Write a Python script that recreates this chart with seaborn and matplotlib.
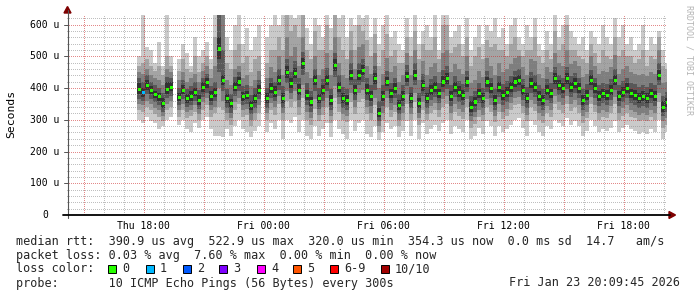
import numpy as np
import pandas as pd
import matplotlib
matplotlib.use("Agg")
import matplotlib.pyplot as plt
import matplotlib.transforms as mtransforms
from matplotlib.patches import Rectangle, Polygon
from matplotlib.lines import Line2D
import seaborn as sns

nan = np.nan

# ---------------- data (microseconds), one sample per 12 minutes from Thu 17:40 ----------------
median = [
    395, 385, 408, 393, 380, 372, 350, 395, 403, nan,
    370, 393, 366, 372, 387, 361, 401, 416, 372, 385,
    523, 424, 366, 350, 403, 419, 372, 377, 345, 366,
    393, nan, 366, 398, 387, 424, 366, 450, 414, 445,
    393, 477, 377, 356, 424, 366, 393, 424, 361, 472,
    403, 366, 361, 440, 393, 440, 456, 393, 372, 429,
    320, 372, 419, 382, 398, 345, 372, 435, 366, 440,
    350, 408, 366, 393, 403, 382, 419, 429, 372, 403,
    387, 377, 419, 340, 356, 382, 366, 419, 398, 361,
    403, 377, 387, 403, 419, 424, 393, 366, 414, 403,
    372, 361, 393, 382, 429, 408, 398, 429, 403, 414,
    398, 361, 377, 424, 398, 372, 382, 377, 393, 424,
    372, 387, 398, 382, 377, 366, 372, 366, 382, 372,
    440, 340, 354]

ping1 = [
    300, 290, 310, 295, 290, 270, 280, 300, 310, nan,
    285, 300, 270, 260, 290, 275, 300, 310, 270, 250,
    250, 245, 270, 250, 280, 300, 270, 260, 245, 265,
    280, nan, 260, 290, 270, 300, 240, 300, 290, 310,
    260, 300, 250, 240, 280, 250, 270, 290, 245, 300,
    270, 255, 240, 300, 265, 290, 300, 255, 245, 280,
    235, 260, 290, 270, 280, 245, 265, 295, 250, 300,
    240, 290, 255, 270, 285, 265, 290, 300, 255, 280,
    270, 260, 300, 240, 250, 275, 255, 295, 280, 250,
    280, 260, 270, 285, 300, 305, 275, 250, 295, 285,
    260, 250, 280, 270, 300, 290, 280, 305, 285, 295,
    280, 250, 265, 300, 280, 262, 270, 265, 275, 295,
    262, 275, 285, 270, 265, 255, 262, 255, 270, 262,
    300, 240, 260]

ping2 = [
    330, 325, 340, 330, 318, 310, 295, 330, 340, nan,
    310, 330, 305, 312, 325, 300, 330, 345, 310, 320,
    340, 330, 300, 285, 330, 350, 310, 315, 280, 300,
    320, nan, 300, 330, 315, 350, 300, 360, 340, 360,
    315, 370, 300, 285, 335, 295, 315, 340, 290, 370,
    325, 298, 292, 355, 318, 355, 365, 318, 300, 345,
    262, 300, 340, 310, 325, 280, 300, 350, 298, 355,
    282, 330, 298, 320, 330, 310, 340, 350, 300, 325,
    312, 302, 340, 275, 288, 310, 295, 340, 325, 292,
    325, 302, 312, 330, 345, 350, 320, 295, 340, 328,
    300, 290, 320, 310, 350, 330, 322, 350, 328, 340,
    322, 290, 305, 350, 325, 300, 310, 305, 320, 350,
    300, 312, 322, 310, 305, 295, 300, 295, 310, 300,
    355, 275, 285]

ping3 = [
    350, 345, 360, 350, 338, 330, 312, 350, 360, nan,
    330, 350, 325, 330, 345, 318, 355, 368, 330, 340,
    400, 360, 320, 305, 355, 370, 330, 335, 300, 320,
    345, nan, 320, 352, 340, 375, 320, 390, 365, 390,
    340, 410, 325, 305, 365, 315, 340, 370, 312, 405,
    350, 318, 312, 385, 340, 385, 395, 340, 322, 370,
    280, 322, 368, 332, 348, 300, 322, 380, 318, 385,
    305, 355, 318, 342, 352, 332, 365, 375, 322, 350,
    335, 325, 365, 295, 308, 332, 316, 365, 348, 312,
    350, 325, 335, 352, 368, 372, 342, 315, 362, 350,
    322, 312, 342, 332, 375, 355, 346, 375, 350, 362,
    346, 312, 326, 372, 346, 322, 332, 326, 342, 372,
    322, 336, 346, 332, 326, 316, 322, 316, 332, 322,
    385, 295, 305]

ping4 = [
    365, 360, 380, 366, 355, 345, 325, 368, 375, nan,
    345, 365, 340, 345, 360, 335, 372, 385, 345, 360,
    450, 390, 338, 322, 375, 390, 345, 350, 318, 338,
    365, nan, 338, 370, 358, 395, 338, 415, 385, 412,
    362, 440, 345, 325, 390, 335, 360, 390, 332, 435,
    372, 338, 332, 410, 362, 408, 420, 362, 342, 395,
    295, 342, 390, 352, 368, 318, 342, 405, 338, 408,
    322, 375, 338, 362, 372, 352, 388, 398, 342, 372,
    356, 346, 388, 312, 326, 352, 336, 388, 368, 332,
    372, 346, 356, 372, 388, 392, 362, 336, 384, 372,
    342, 332, 362, 352, 398, 378, 368, 398, 372, 384,
    368, 332, 346, 394, 368, 342, 352, 346, 362, 394,
    342, 356, 368, 352, 346, 336, 342, 336, 352, 342,
    408, 312, 326]

ping5 = [
    380, 372, 395, 380, 368, 360, 338, 382, 390, nan,
    358, 380, 352, 360, 375, 348, 388, 400, 360, 372,
    490, 410, 352, 338, 390, 405, 360, 365, 332, 352,
    380, nan, 352, 384, 372, 410, 352, 432, 400, 430,
    378, 460, 362, 342, 408, 352, 378, 408, 348, 455,
    388, 352, 348, 425, 378, 425, 440, 378, 358, 412,
    308, 358, 405, 368, 384, 332, 358, 420, 352, 425,
    336, 392, 352, 378, 388, 368, 404, 414, 358, 388,
    372, 362, 404, 326, 342, 368, 352, 404, 384, 348,
    388, 362, 372, 388, 404, 410, 378, 352, 400, 388,
    358, 348, 378, 368, 414, 394, 384, 414, 388, 400,
    384, 348, 362, 410, 384, 358, 368, 362, 378, 410,
    358, 372, 384, 368, 362, 352, 358, 352, 368, 358,
    425, 326, 340]

ping6 = [
    415, 400, 425, 405, 392, 385, 368, 418, 420, nan,
    385, 410, 382, 390, 400, 378, 418, 430, 390, 400,
    560, 440, 382, 365, 420, 435, 388, 392, 360, 382,
    410, nan, 385, 415, 405, 442, 385, 470, 430, 462,
    412, 495, 395, 372, 440, 382, 410, 442, 378, 490,
    420, 385, 378, 458, 410, 458, 472, 412, 390, 448,
    338, 390, 435, 398, 415, 362, 390, 452, 385, 458,
    368, 425, 384, 410, 420, 398, 438, 448, 390, 420,
    405, 394, 436, 358, 372, 398, 384, 436, 415, 378,
    420, 394, 404, 420, 436, 442, 410, 384, 432, 420,
    390, 378, 410, 398, 446, 425, 415, 446, 420, 430,
    415, 378, 394, 440, 415, 390, 398, 394, 410, 442,
    390, 404, 415, 398, 394, 384, 390, 384, 398, 390,
    458, 358, 370]

ping7 = [
    430, 420, 440, 418, 410, 400, 385, 435, 432, nan,
    400, 425, 398, 405, 418, 395, 432, 445, 405, 420,
    650, 520, 398, 382, 435, 450, 405, 410, 378, 400,
    425, nan, 400, 432, 420, 460, 405, 490, 450, 485,
    430, 515, 415, 390, 460, 400, 428, 462, 398, 510,
    440, 402, 398, 478, 428, 480, 492, 430, 408, 468,
    358, 408, 455, 415, 432, 380, 408, 472, 402, 478,
    385, 445, 402, 428, 438, 415, 458, 468, 408, 438,
    422, 412, 455, 376, 390, 415, 400, 455, 432, 396,
    438, 412, 422, 438, 455, 460, 428, 402, 450, 440,
    408, 396, 428, 415, 465, 442, 432, 465, 438, 448,
    432, 396, 412, 458, 432, 408, 415, 412, 428, 460,
    408, 422, 432, 415, 412, 402, 408, 402, 415, 408,
    478, 376, 388]

ping8 = [
    450, 445, 460, 440, 432, 425, 410, 460, 450, nan,
    425, 450, 420, 430, 445, 420, 455, 470, 430, 470,
    650, 650, 425, 410, 460, 470, 430, 440, 405, 425,
    455, nan, 430, 465, 450, 500, 440, 560, 500, 530,
    470, 560, 450, 430, 500, 440, 460, 510, 440, 560,
    480, 440, 430, 520, 460, 530, 540, 470, 445, 510,
    400, 445, 495, 450, 470, 420, 440, 510, 440, 520,
    425, 485, 440, 465, 480, 450, 510, 520, 450, 475,
    460, 445, 500, 415, 425, 455, 435, 495, 470, 440,
    480, 450, 460, 475, 495, 500, 465, 440, 490, 485,
    445, 430, 465, 450, 510, 480, 470, 520, 475, 485,
    470, 435, 445, 500, 470, 445, 455, 450, 465, 505,
    445, 460, 468, 450, 445, 440, 445, 438, 450, 445,
    520, 415, 420]

ping9 = [
    470, 480, 490, 470, 455, 470, 440, 500, 470, nan,
    455, 490, 460, 450, 500, 450, 480, 500, 460, 560,
    650, 650, 480, 460, 520, 540, 480, 500, 450, 490,
    500, nan, 480, 520, 520, 560, 520, 650, 580, 600,
    560, 650, 520, 490, 580, 520, 520, 600, 520, 650,
    560, 520, 490, 580, 520, 600, 580, 550, 500, 570,
    470, 520, 570, 500, 520, 480, 480, 560, 500, 580,
    490, 540, 520, 520, 560, 490, 600, 600, 510, 530,
    540, 500, 560, 470, 500, 530, 490, 550, 530, 540,
    520, 520, 500, 540, 560, 520, 500, 520, 520, 560,
    500, 480, 520, 490, 580, 520, 540, 600, 520, 520,
    500, 490, 480, 540, 510, 480, 520, 500, 490, 560,
    500, 520, 500, 500, 480, 490, 520, 470, 500, 490,
    560, 470, 460]

ping10 = [
    500, 650, 530, 520, 480, 545, 470, 650, 500, nan,
    490, 540, 510, 470, 560, 500, 520, 545, 490, 650,
    650, 650, 560, 520, 600, 650, 540, 590, 520, 560,
    600, nan, 560, 600, 650, 600, 650, 650, 650, 620,
    650, 650, 590, 540, 620, 600, 560, 650, 590, 650,
    620, 650, 560, 620, 600, 650, 620, 640, 560, 620,
    540, 600, 650, 560, 580, 540, 520, 620, 560, 630,
    540, 580, 600, 560, 650, 520, 650, 650, 560, 580,
    600, 540, 620, 520, 560, 600, 540, 600, 580, 620,
    560, 590, 540, 600, 620, 560, 540, 600, 560, 620,
    540, 520, 580, 540, 630, 560, 600, 650, 580, 560,
    540, 560, 520, 580, 560, 540, 600, 560, 540, 620,
    560, 600, 540, 560, 520, 540, 600, 520, 560, 540,
    580, 520, 480]

# lost pings per sample (out of 10)
loss = [
    0, 1, 0, 0, 0, 0, 0, 0, 0, 0,
    0, 0, 0, 0, 0, 0, 0, 0, 0, 0,
    0, 0, 0, 0, 0, 0, 0, 0, 0, 0,
    0, 0, 0, 0, 0, 0, 0, 0, 0, 0,
    0, 0, 0, 0, 0, 0, 0, 0, 0, 0,
    0, 0, 0, 0, 0, 0, 0, 0, 0, 0,
    0, 0, 0, 0, 0, 0, 0, 0, 0, 0,
    0, 0, 0, 0, 0, 0, 0, 0, 0, 0,
    0, 0, 0, 0, 0, 0, 0, 0, 0, 0,
    0, 0, 0, 0, 0, 0, 0, 0, 0, 0,
    0, 0, 0, 0, 0, 0, 0, 0, 0, 0,
    0, 0, 0, 0, 0, 0, 0, 0, 0, 0,
    0, 0, 0, 0, 0, 0, 0, 0, 0, 0,
    0, 0, 0]

loss_colors = ["#26ff00", "#00b8ff", "#0059ff", "#7e00ff",
               "#ff00ff", "#ff5500", "#ff0000", "#a10000"]
loss_labels = ["0", "1", "2", "3", "4", "5", "6-9", "10/10"]
smoke_colors = ["#cacaca", "#a4a4a4", "#7e7e7e", "#585858", "#323232"]

y_ticks = [0, 100, 200, 300, 400, 500, 600]
y_tick_labels = ["0", "100 u", "200 u", "300 u", "400 u", "500 u", "600 u"]
x_ticks = [18, 24, 30, 36, 42]  # hours since Thu 00:00
x_tick_labels = ["Thu 18:00", "Fri 00:00", "Fri 06:00", "Fri 12:00", "Fri 18:00"]

legend_rtt = ("median rtt:  390.9 us avg  522.9 us max  320.0 us min  "
              "354.3 us now  0.0 ms sd  14.7   am/s")
legend_loss = "packet loss: 0.03 % avg  7.60 % max  0.00 % min  0.00 % now"
legend_probe = "probe:       10 ICMP Echo Pings (56 Bytes) every 300s"
legend_date = "Fri Jan 23 20:09:45 2026"

# ---------------- time axis ----------------
times = pd.date_range("2026-01-22 17:40", periods=len(median), freq="12min")
t = ((times - pd.Timestamp("2026-01-22")) / pd.Timedelta(hours=1)).to_numpy()
step = 0.2
x_start, x_end = 14.1625, 44.1625
y_top = 630

# ---------------- figure ----------------
W, H = 697, 297
sns.set_theme(style="white")
plt.rcParams["font.family"] = ["DejaVu Sans Mono", "DejaVu Sans"]

fig = plt.figure(figsize=(W / 100, H / 100), dpi=100)
fig.patch.set_facecolor("white")


def fx(px):
    return px / W


def fy(py):
    return 1 - py / H


L, R, T, B = 67, 667, 15, 215
PW, PH = R - L, B - T
ax = fig.add_axes([fx(L), fy(B), PW / W, PH / H])
ax.set_axis_off()


def steps(vals):
    v = np.asarray(vals, dtype=float)
    xs = np.repeat(np.append(t, t[-1] + step), 2)[1:-1]
    ys = np.repeat(v, 2)
    return xs, ys


pings = [ping1, ping2, ping3, ping4, ping5, ping6, ping7, ping8, ping9, ping10]
for k in range(5):
    xs, lo = steps(pings[k])
    _, hi = steps(pings[9 - k])
    ax.fill_between(xs, lo, hi, color=smoke_colors[k], linewidth=0, zorder=1)

# dotted grid rendered pixel-exact as an overlay image (drawn over the smoke)
grid = np.zeros((PH, PW, 4))
minor_rgba = (0.55, 0.55, 0.55, 0.55)
major_rgba = (0.80, 0.16, 0.16, 0.55)
for v in range(20, y_top, 20):
    r = int(round((y_top - v) / y_top * PH))
    r = min(max(r, 0), PH - 1)
    grid[r, 0::2] = major_rgba if v % 100 == 0 else minor_rgba
for hr in range(15, 45):
    c = int(round((hr - x_start) / (x_end - x_start) * PW))
    if 0 <= c < PW:
        rows = np.arange(PH - 1, -1, -2)
        grid[rows, c] = major_rgba if hr % 3 == 0 else minor_rgba
ax.imshow(grid, extent=(x_start, x_end, 0, y_top), aspect="auto",
          interpolation="nearest", origin="upper", zorder=2)

# median markers coloured by loss
df = pd.DataFrame({"t": t + step / 2, "median": median, "loss": loss}).dropna()
pal = {k: loss_colors[k] for k in sorted(df["loss"].unique())}
sns.scatterplot(data=df, x="t", y="median", hue="loss", palette=pal,
                marker="s", s=5, linewidth=0, legend=False, ax=ax, zorder=4)

ax.set_xlim(x_start, x_end)
ax.set_ylim(0, y_top)

# axes lines and arrows
fig.add_artist(Line2D([fx(67.5), fx(67.5)], [fy(218), fy(10)], color="#555555",
                      lw=0.8, transform=fig.transFigure))
fig.add_artist(Line2D([fx(63), fx(670)], [fy(215), fy(215)], color="black",
                      lw=1.3, transform=fig.transFigure))
fig.add_artist(Polygon([(fx(64), fy(13)), (fx(71), fy(13)), (fx(67.5), fy(6.5))],
                       closed=True, color="#7f0000", transform=fig.transFigure))
fig.add_artist(Polygon([(fx(669), fy(211.5)), (fx(669), fy(218.5)), (fx(675.5), fy(215))],
                       closed=True, color="#7f0000", transform=fig.transFigure))

ytr = mtransforms.blended_transform_factory(fig.transFigure, ax.transData)
for v in range(100, y_top, 100):
    fig.add_artist(Line2D([fx(64), fx(67.5)], [v, v], color="#555555", lw=0.7,
                          transform=ytr))
for v, lab in zip(y_ticks, y_tick_labels):
    xr = 59.5 if lab.endswith("u") else 47.8
    fig.text(fx(xr), v, lab, transform=ytr, ha="right", va="center",
             fontsize=7, color="black")

xtr = mtransforms.blended_transform_factory(ax.transData, fig.transFigure)
for h, lab in zip(x_ticks, x_tick_labels):
    fig.text(h, fy(226), lab, transform=xtr, ha="center", va="center",
             fontsize=7, color="black")

fig.text(fx(11), fy(114), "Seconds", rotation=90, ha="center", va="center",
         fontsize=8.2, color="black")
fig.text(fx(689), fy(60), "RRDTOOL / TOBI OETIKER", rotation=270, ha="center",
         va="center", fontsize=6, color="#b4b4b4")

# legend block
fs = 8.5
fig.text(fx(16), fy(241), legend_rtt, ha="left", va="center", fontsize=fs)
fig.text(fx(16), fy(255), legend_loss, ha="left", va="center", fontsize=fs)
fig.text(fx(16), fy(269), "loss color:", ha="left", va="center", fontsize=fs)
box_x = [108, 146, 183, 219, 257, 293, 330, 381]
for bx, c, lab in zip(box_x, loss_colors, loss_labels):
    fig.add_artist(Rectangle((fx(bx), fy(273)), 8 / W, 8 / H, facecolor=c,
                             edgecolor="black", lw=0.7, transform=fig.transFigure))
    fig.text(fx(bx + 14), fy(269), lab, ha="left", va="center", fontsize=fs)
fig.text(fx(16), fy(283), legend_probe, ha="left", va="center", fontsize=fs)
fig.text(fx(680), fy(283), legend_date, ha="right", va="center", fontsize=fs)

fig.savefig("out.png", dpi=100, facecolor="white")
